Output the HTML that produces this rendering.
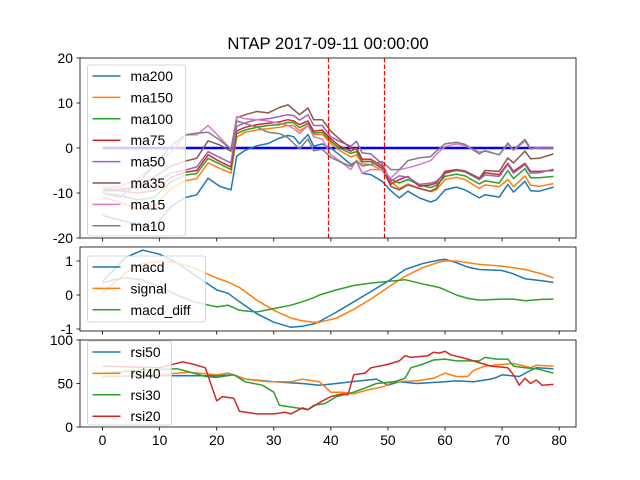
<!DOCTYPE html>
<html><head><meta charset="utf-8"><style>
body{margin:0;background:#fff;}
svg{display:block;font-family:"Liberation Sans","DejaVu Sans",sans-serif;}
</style></head><body>
<svg id="c" width="640" height="480" viewBox="0 0 640 480" xmlns="http://www.w3.org/2000/svg"></svg>
<script>
const xTop=[0,3,6,9,12,14.5,16.5,18.5,20.5,22.5,23.5,25,27,29,31,32.5,33.5,34.5,36,37,38.5,40,41.5,43.5,44.5,45.5,47,49,50.5,52,53.5,55.5,57.5,58.5,60,62,63.5,66,67,69.5,71,72,74,75,76.5,79];
const ma200=[-15,-16,-17,-17.5,-13,-11,-10.4,-6.7,-8.5,-9.3,-1.8,-0.5,0.5,1,2.2,2.8,2.5,0.9,3,0.4,0.9,0,-1.5,-3.7,-3,-5.6,-5.9,-7.4,-9.5,-11.1,-9.6,-11.1,-12,-11.5,-9.3,-8.7,-9.3,-11.1,-10.4,-10.9,-8.1,-9.8,-7.4,-9.5,-9.6,-8.7];
const ma150=[-11,-12,-13.5,-13,-9,-7.3,-6.8,-3.3,-4.5,-5.6,2.4,3.5,4,4.3,4.6,5,5,3.8,5,3,3,1,-0.5,-2,-1.5,-3.5,-3.7,-5,-7.5,-9,-8,-9,-9.7,-9.3,-7,-6.5,-7,-9,-8.2,-8.6,-7,-8.6,-6.2,-8.3,-8.5,-7.9];
const ma100=[-10,-10.5,-11.5,-11,-7.5,-6,-5.7,-2.3,-3.5,-4.8,3.2,4,4.6,5,5.2,5.7,5.6,4.5,5.5,3.3,3.5,1.5,0,-1.2,-0.8,-3,-3,-4.5,-7,-7.8,-7,-8.2,-8.8,-8.3,-6.3,-5.8,-6.2,-8,-7.3,-7.8,-5,-6.8,-4.6,-6.6,-6.6,-6.3];
const ma75=[-9,-9.5,-10,-9.5,-6.5,-5.4,-5,-1.5,-3,-4.2,3.8,4.6,5.2,5.5,5.8,6.3,6,5.2,6,3.7,4,2,0.5,-0.7,0,-2.5,-2.5,-4,-8.1,-7,-6.3,-8.5,-8.2,-7.8,-5.2,-4.8,-5.3,-7,-5.5,-5.9,-3.4,-5.2,-3.4,-5.2,-5.2,-5];
const ma50=[-9.5,-9,-9,-8,-5.5,-4.9,-4.2,-0.8,-2.1,-3.3,4.8,5.6,6.3,6.5,7,7.4,7.2,6.2,7.4,5,5,2.5,1.5,0.4,1.5,-1.1,-1.3,-3.5,-7.4,-6.2,-6.5,-8.1,-7.8,-7.4,-5.6,-5,-5.3,-7,-6,-6.3,-3.7,-5.6,-3.7,-5.6,-5.5,-4.7];
const ma35=[-9.5,-9.5,-8.5,-6.5,-4,-2.9,-2.3,1.6,0.7,-0.7,6.7,7.4,8.1,7.8,9,9.6,8.5,7.4,8.9,6.3,6.3,3.7,2,0,-0.3,-3,-3,-4.5,-8.5,-9.3,-8.2,-9,-9.6,-8.9,-5.6,-4.8,-5.1,-6.7,-5,-5.2,-2.2,-3.3,-0.7,-2.4,-2.3,-1.3];
const ma15=[-9,-8.5,-7,-4,-1,2.9,2.9,5,2.4,-0.3,7,6.5,6.3,6,5.5,5,4.3,3.2,5,2.5,2,-1.5,-2.8,-4.8,-2.8,-5.6,-4.8,-4.8,-6.7,-4.8,-4.4,-3.7,-2.8,-1.4,0.3,0.9,0.5,-0.9,-0.7,-1.5,0.9,-0.5,1.5,-0.3,0,0];
const ma10=[-10,-11,-8,-4,0.5,2.9,3.3,3.5,1.8,-0.3,6,5.4,4.7,3.5,3.2,2.3,1,-0.2,2,-0.6,-0.3,-2.1,-3,-4.1,-2.8,-4,-3.7,-3,-4.8,-4.8,-2.8,-2.2,-1.9,-0.7,0.9,1.3,0.8,-1.3,-0.6,-1.5,1.1,-0.4,1.9,-0.1,0.1,0.1];
const topNames=["ma200","ma150","ma100","ma75","ma50","ma35","ma15","ma10"];
const vlines=[39.5,49.3];

const xMid=[0,2,4,7,10,13,16,20,22,24,27,30,33,35,37,38,41,44,47,50,53,56,59,60,62,64,66,70,72,74,77,79];
const macd=[0.4,0.75,1.1,1.32,1.2,0.95,0.6,0.15,0.05,-0.2,-0.55,-0.8,-0.95,-0.92,-0.85,-0.78,-0.5,-0.2,0.1,0.4,0.75,0.92,1.03,1.05,0.95,0.82,0.75,0.72,0.62,0.48,0.42,0.37];
const signal=[0.05,0.35,0.65,0.92,1.0,0.95,0.8,0.5,0.38,0.22,-0.15,-0.45,-0.68,-0.76,-0.8,-0.8,-0.68,-0.42,-0.12,0.22,0.55,0.8,0.97,1.0,1.0,0.95,0.9,0.85,0.8,0.75,0.62,0.5];
const macdDiff=[0.35,0.45,0.5,0.45,0.25,0.0,-0.2,-0.35,-0.3,-0.45,-0.5,-0.4,-0.3,-0.2,-0.08,0.0,0.15,0.28,0.35,0.4,0.45,0.33,0.22,0.15,0.0,-0.1,-0.15,-0.12,-0.12,-0.17,-0.13,-0.12];
const midNames=["macd","signal","macd_diff"];

const xR50=[0,10,20,23,25,30,35,38,41,45,48,50,52,55,60,62,65,68,69,70,73,75,76,79];
const rsi50=[58,59,59,60,55,52,50,48,50,53,55,48,52,50,52,53,52,55,57,60,58,65,68,67];
const xR40=[0,10,15,20,22,23,25,29,33,35,38,40,42,44,46,49,51,55,58,60,62,64,65,67,70,72,74,75,76,79];
const rsi40=[58,60,63,60,62,60,55,52,52,55,52,40,40,38,42,46,52,53,56,62,58,58,65,70,72,73,70,68,71,70];
const xR30=[0,6,13,16,18,20,23,25,28,30,31,34,36,37,39,41,44,46,48,51,53,54,56,58,60,62,66,67,69,71,72,74,76,79];
const rsi30=[62,65,67,62,58,57,60,52,48,40,25,22,20,25,27,35,40,45,50,52,56,68,72,77,78,76,76,80,78,78,70,68,67,62];
const xR20=[0,10,14,16,18,20,21,23,24,27,30,32,33,35,36,38,40,42,43,44,46,47,50,52,53,54,57,58,59,60,61,64,65,67,68,71,72,73,74,75,76,77,79];
const rsi20=[70,68,75,72,68,30,35,33,18,15,15,17,15,22,20,28,35,38,37,60,62,68,72,76,82,80,82,86,85,87,83,78,76,72,70,68,60,48,56,50,54,48,49];
const botNames=["rsi50","rsi40","rsi30","rsi20"];

const C=["#1f77b4","#ff7f0e","#2ca02c","#d62728","#9467bd","#8c564b","#e377c2","#7f7f7f"];
const NS="http://www.w3.org/2000/svg";
const svg=document.getElementById('c');
function el(t,a,p){const e=document.createElementNS(NS,t);for(const k in a)e.setAttribute(k,a[k]);(p||svg).appendChild(e);return e;}
const L=80,R=576;
const xs=v=>L+(v+3.95)/(86.9)*(R-L);
function panel(top,bot,ymin,ymax){return {top,bot,y:v=>bot-(v-ymin)/(ymax-ymin)*(bot-top)};}
const P1=panel(58,238,-20,20), P2=panel(247,331,-1.0588,1.4118), P3=panel(340,427,0,100);

function line(xv,yv,ax,color,name,w){
  const d=xv.map((x,i)=>(i?'L':'M')+xs(x).toFixed(1)+','+ax.y(yv[i]).toFixed(1)).join(' ');
  const p=el('path',{d,fill:'none',stroke:color,'stroke-width':w||1.5,'stroke-linejoin':'round','clip-path':'url(#'+ax.cid+')'});
  
  
}
const defs=el('defs',{});
[P1,P2,P3].forEach((ax,i)=>{ax.cid='clip'+i;const cp=el('clipPath',{id:ax.cid},defs);el('rect',{x:L,y:ax.top,width:R-L,height:ax.bot-ax.top},cp);});

function frame(ax,ticks,name,showX){
  const g=el('g',{});
  ticks.forEach(t=>{const y=ax.y(t);el('line',{x1:L-3.5,x2:L,y1:y,y2:y,stroke:'#000','stroke-width':0.8},g);
    const tx=el('text',{x:L-7,y:y+5,'text-anchor':'end','font-size':13.9,fill:'#000'},g);tx.textContent=t;});
  for(let v=0;v<=80;v+=10){const x=xs(v);el('line',{x1:x,x2:x,y1:ax.bot,y2:ax.bot+3.5,stroke:'#000','stroke-width':0.8},g);
    if(showX){const tx=el('text',{x:x,y:ax.bot+18,'text-anchor':'middle','font-size':13.9,fill:'#000'},g);tx.textContent=v;}}
  return g;
}
function box(ax){el('rect',{x:L,y:ax.top,width:R-L,height:ax.bot-ax.top,fill:'none',stroke:'#000','stroke-width':0.8});}
function legend(x,y,w,h,names,colors,name){
  const g=el('g',{});
  el('rect',{x,y,width:w,height:h,rx:2.5,fill:'#fff','fill-opacity':0.8,stroke:'#ccc','stroke-width':0.8},g);
  names.forEach((n,i)=>{const yy=y+11+i*21.4;
    el('line',{x1:x+5,x2:x+33,y1:yy,y2:yy,stroke:colors[i],'stroke-width':1.5},g);
    const t=el('text',{x:x+43,y:yy+5,'font-size':13.9,fill:'#000'},g);t.textContent=n;});
}

// Panel 1
frame(P1,[-20,-10,0,10,20],'top-axes',false);
const zl=el('line',{x1:xs(0),x2:xs(79),y1:P1.y(0),y2:P1.y(0),stroke:'#0000ff','stroke-width':2.5});


[ma200,ma150,ma100,ma75,ma50,ma35,ma15,ma10].forEach((s,i)=>line(xTop,s,P1,C[i],topNames[i]));
vlines.forEach((v,i)=>{const xx=Math.round(xs(v))+0.5;const l=el('line',{x1:xx,x2:xx,y1:P1.top,y2:P1.bot,stroke:'#ff0000','stroke-width':1.2,'stroke-dasharray':'4.5,2'});
  
  });
box(P1);
legend(87.5,65,98,171,topNames,C,'top-legend');

// Panel 2
frame(P2,[-1,0,1],'macd-axes',false);
[macd,signal,macdDiff].forEach((s,i)=>line(xMid,s,P2,C[i],midNames[i]));
box(P2);
legend(87.5,256,118,66,midNames,C,'macd-legend');

// Panel 3
frame(P3,[0,50,100],'rsi-axes',true);
line(xR50,rsi50,P3,C[0],'rsi50');
line(xR40,rsi40,P3,C[1],'rsi40');
line(xR30,rsi30,P3,C[2],'rsi30');
line(xR20,rsi20,P3,C[3],'rsi20');
box(P3);
legend(87.5,341,84,84,botNames,C,'rsi-legend');

const title=el('text',{x:328,y:49,'text-anchor':'middle','font-size':16.7,fill:'#000'});
title.textContent='NTAP 2017-09-11 00:00:00';


</script>
</body></html>
